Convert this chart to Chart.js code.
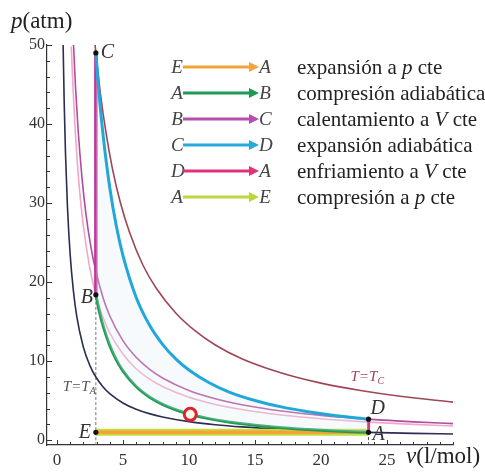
<!DOCTYPE html>
<html><head><meta charset="utf-8">
<script src="https://cdn.jsdelivr.net/npm/chart.js@4/dist/chart.umd.min.js"></script>
<style>
html,body{margin:0;padding:0;background:#fff;}
#wrap{position:relative;width:485px;height:475px;overflow:hidden;font-family:"Liberation Serif","Times New Roman","DejaVu Serif",serif;}
#c{position:absolute;left:0;top:0;}
.t{position:absolute;white-space:nowrap;color:#222;line-height:1;}
.lt{position:absolute;font-style:italic;font-size:19px;color:#444;width:12px;text-align:center;line-height:26px;}
.tx{position:absolute;font-size:21px;color:#222;line-height:26px;white-space:nowrap;}
.ar{position:absolute;}
</style></head>
<body><div id="wrap"><canvas id="c" width="485" height="475"></canvas>
<div class="t" style="left:11px;top:9px;font-size:23px;"><i>p</i>(atm)</div>
<div class="t" style="left:406px;top:444px;font-size:23px;"><i>v</i>(l/mol)</div>
</div>
<script>
// ---- data ----
const X_TICKS = [0,1,2,3,4,5,6,7,8,9,10,11,12,13,14,15,16,17,18,19,20,21,22,23,24,25,26,27,28,29,30];
const X_LABELED = [0,5,10,15,20,25];
const Y_TICKS = [0,2,4,6,8,10,12,14,16,18,20,22,24,26,28,30,32,34,36,38,40,42,44,46,48,50];
const Y_LABELED = [0,10,20,30,40,50];

// adiabats A->B and C->D (same volumes)
const ADI_V = [2.95,3.2,3.5,4,4.5,5,6,7,8,9,10,11.5,13,15,17,19,21,23.6];
const ADI_AB_P = [18.4,16.4,14.47,12.0,10.17,8.78,6.80,5.48,4.55,3.86,3.33,2.74,2.30,1.89,1.58,1.36,1.18,1.0];
const ADI_CD_P = [49,43.7,38.6,32.0,27.1,23.4,18.1,14.6,12.13,10.29,8.88,7.30,6.13,5.03,4.22,3.61,3.14,2.67];

// isotherms
const ISO_A_V = [0.47,0.55,0.65,0.8,1,1.25,1.5,2,2.5,2.95,3.5,4,5,6,7,8,10,12,14,17,20,23.6,27,30];
const ISO_A_P = [50.2,42.9,36.3,29.5,23.6,18.9,15.7,11.8,9.44,8.0,6.74,5.9,4.72,3.93,3.37,2.95,2.36,1.97,1.69,1.39,1.18,1.0,0.87,0.79];
const ISO_B_V = [1.09,1.2,1.4,1.7,2,2.5,2.95,3.5,4,5,6,7,8,10,12,14,17,20,24,27,30];
const ISO_B_P = [49.8,45.3,38.8,31.9,27.2,21.7,18.4,15.5,13.6,10.9,9.05,7.76,6.79,5.43,4.53,3.88,3.19,2.72,2.26,2.01,1.81];
const ISO_D_V = [1.26,1.4,1.6,1.9,2.2,2.6,2.95,3.5,4,5,6,7,8,10,12,14,17,20,23.6,27,30];
const ISO_D_P = [50,45,39.4,33.2,28.6,24.2,21.4,18.0,15.75,12.6,10.5,9.0,7.88,6.3,5.25,4.5,3.71,3.15,2.67,2.33,2.1];
const ISO_C_V = [2.89,3.3,3.7,4.2,4.8,5.5,6.5,7.5,9,10.5,12,14,16,18,20,23,26,30];
const ISO_C_P = [50,43.8,39.1,34.4,30.1,26.3,22.2,19.3,16.1,13.8,12.05,10.3,9.04,8.03,7.23,6.29,5.56,4.82];

// states
const STATE_NAMES = ['A','B','C','D','E'];
const STATE_V = [23.6,2.95,2.95,23.6,2.95];
const STATE_P = [1,18.4,49,2.67,1];
// isobar E<->A, isochores
const ISOBAR_V = [2.95,23.6];
const ISOBAR_P = [1,1];
const BC_V = [2.95,2.95];  const BC_P = [18.4,49];
const DA_V = [23.6,23.6];  const DA_P = [2.67,1];
const GUIDE_E_V = [2.95,2.95]; const GUIDE_E_P = [-0.6,18.4];
const GUIDE_A_V = [23.6,23.6]; const GUIDE_A_P = [-0.6,1];
// current-state marker
const MARK_V = [10.1];
const MARK_P = [3.28];

// legend
const LEG_FROM = ['E','A','B','C','D','A'];
const LEG_TO = ['A','B','C','D','A','E'];
const LEG_TEXT = ['expansión a <i>p</i> cte','compresión adiabática','calentamiento a <i>V</i> cte','expansión adiabática','enfriamiento a <i>V</i> cte','compresión a <i>p</i> cte'];
const LEG_COLOR = ['#f4a33a','#1f9a55','#b34fae','#27a9dc','#e0317b','#b9d83c'];

// ---- build ----
const xy = (vs, ps) => vs.map((v,i)=>({x:v,y:ps[i]}));
const wrap = document.getElementById('wrap');
LEG_FROM.forEach((f,i)=>{
  const top = 54 + i*26;
  const a = document.createElement('div'); a.className='lt'; a.style.left='171px'; a.style.top=top+'px'; a.textContent=f; wrap.appendChild(a);
  const b = document.createElement('div'); b.className='lt'; b.style.left='259px'; b.style.top=top+'px'; b.textContent=LEG_TO[i]; wrap.appendChild(b);
  const s = document.createElementNS('http://www.w3.org/2000/svg','svg');
  s.setAttribute('width','78'); s.setAttribute('height','12'); s.setAttribute('class','ar');
  s.style.left='183px'; s.style.top=(top+7)+'px';
  s.innerHTML = `<line x1="0" y1="6" x2="68" y2="6" stroke="${LEG_COLOR[i]}" stroke-width="3"/><polygon points="66,1 76,6 66,11" fill="${LEG_COLOR[i]}"/>`;
  wrap.appendChild(s);
  const t = document.createElement('div'); t.className='tx'; t.style.left='297px'; t.style.top=top+'px'; t.innerHTML=LEG_TEXT[i]; wrap.appendChild(t);
});

const line = (data, color, width, order, extra) => Object.assign({
  data, borderColor: color, borderWidth: width, pointRadius: 0, fill: false,
  cubicInterpolationMode: 'monotone', order
}, extra || {});

const datasets = [
  line(xy(MARK_V, MARK_P), '#d8262a', 3, 0, {pointRadius:6, pointBorderWidth:3, pointBackgroundColor:'#fff8ee', pointBorderColor:'#d8262a', showLine:false}),
  line(xy(STATE_V, STATE_P), '#111', 0, 1, {pointRadius:2.6, pointBackgroundColor:'#111', pointBorderWidth:0, showLine:false}),
  line(xy(ADI_V, ADI_CD_P), '#22a8d8', 3, 2, {fill: {target: 3}, backgroundColor: 'rgba(220,234,244,0.25)'}),
  line(xy(ADI_V, ADI_AB_P), '#1f9a55', 3, 2),
  line(xy(BC_V, BC_P), '#c0389a', 3.5, 2),
  line(xy(DA_V, DA_P), '#e0317b', 3, 2),
  line(xy(ISOBAR_V, ISOBAR_P), '#f4a33a', 3.5, 3),
  line(xy(ISOBAR_V, ISOBAR_P), '#c4dc3c', 7, 4),
  line(xy(ISO_A_V, ISO_A_P), '#2b2e52', 1.6, 6),
  line(xy(ISO_B_V, ISO_B_P), '#f2a6c8', 1.6, 6),
  line(xy(ISO_D_V, ISO_D_P), '#b24c9e', 1.6, 6),
  line(xy(ISO_C_V, ISO_C_P), '#9e4656', 1.6, 6),
  line(xy(GUIDE_E_V, GUIDE_E_P), '#777', 1, 7, {borderDash:[3,2]}),
  line(xy(GUIDE_A_V, GUIDE_A_P), '#555', 1, 7, {borderDash:[3,2]})
];

const decor = {
  id: 'decor',
  afterDatasetsDraw(chart) {
    const {ctx, scales:{x, y}, chartArea:a} = chart;
    ctx.save();
    ctx.strokeStyle = '#333'; ctx.lineWidth = 1;
    x.ticks.forEach(t => {
      const px = Math.round(x.getPixelForValue(t.value)) + 0.5;
      const len = X_LABELED.includes(t.value) ? 5 : 3;
      ctx.beginPath(); ctx.moveTo(px, a.bottom); ctx.lineTo(px, a.bottom - len); ctx.stroke();
    });
    y.ticks.forEach(t => {
      const py = Math.round(y.getPixelForValue(t.value)) + 0.5;
      const len = Y_LABELED.includes(t.value) ? 5 : 3;
      ctx.beginPath(); ctx.moveTo(a.left, py); ctx.lineTo(a.left + len, py); ctx.stroke();
    });
    // state labels
    const off = {A:[4,2,'left'], B:[-3,3,'right'], C:[5,0,'left'], D:[2,-10,'left'], E:[-5,0,'right']};
    ctx.font = 'italic 20px "Liberation Serif", "Times New Roman", serif';
    ctx.fillStyle = '#333'; ctx.textBaseline = 'middle';
    STATE_NAMES.forEach((n,i) => {
      const px = x.getPixelForValue(STATE_V[i]), py = y.getPixelForValue(STATE_P[i]);
      const o = off[n];
      ctx.textAlign = o[2];
      ctx.fillText(n, px + o[0], py + o[1]);
    });
    // isotherm labels
    const iso = (txt, sub, v, p, dx, dy, color) => {
      const px = x.getPixelForValue(v) + dx, py = y.getPixelForValue(p) + dy;
      ctx.fillStyle = color; ctx.textAlign = 'left'; ctx.textBaseline = 'alphabetic';
      ctx.font = 'italic 15px "Liberation Serif", "Times New Roman", serif';
      ctx.fillText(txt, px, py);
      const w = ctx.measureText(txt).width;
      ctx.font = 'italic 10px "Liberation Serif", "Times New Roman", serif';
      ctx.fillText(sub, px + w, py + 3);
    };
    iso('T=T', 'A', 2.95, 8.0, -33, 14, '#555');
    iso('T=T', 'C', 23, 6.29, -10, -10, '#9e4656');
    ctx.restore();
  }
};

new Chart(document.getElementById('c'), {
  type: 'line',
  data: { datasets },
  options: {
    responsive: false, animation: false,
    layout: { padding: { left: 0, top: 45, right: 32, bottom: 0 } },
    plugins: { legend: { display: false }, tooltip: { enabled: false } },
    scales: {
      x: {
        type: 'linear', min: -0.75, max: 30,
        afterBuildTicks: s => { s.ticks = X_TICKS.map(v => ({value: v})); },
        afterFit: s => { s.height = 30; },
        grid: { display: false, drawTicks: false },
        border: { display: true, color: '#333', width: 1.2 },
        ticks: { autoSkip: false, maxRotation: 0, padding: 5, color: '#333',
          font: { family: '"Liberation Serif", "Times New Roman", serif', size: 17 },
          callback: v => X_LABELED.includes(v) ? String(v) : '' }
      },
      y: {
        type: 'linear', min: -0.6, max: 50,
        afterBuildTicks: s => { s.ticks = Y_TICKS.map(v => ({value: v})); },
        afterFit: s => { s.width = 47; },
        grid: { display: false, drawTicks: false },
        border: { display: true, color: '#333', width: 1.2 },
        ticks: { autoSkip: false, padding: 2, color: '#333',
          font: { family: '"Liberation Serif", "Times New Roman", serif', size: 16 },
          callback: v => Y_LABELED.includes(v) ? String(v) : '' }
      }
    }
  },
  plugins: [decor]
});
</script></body></html>
